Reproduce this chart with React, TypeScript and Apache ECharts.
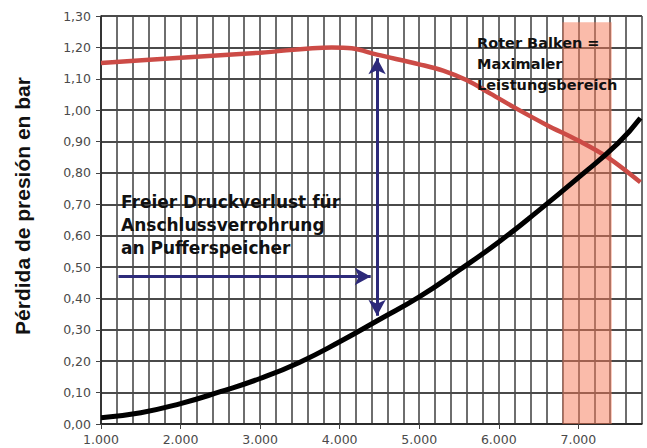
import React, { useEffect, useRef } from "react";
import * as echarts from "echarts";

const xTicks = [1000, 2000, 3000, 4000, 5000, 6000, 7000];
const yTicks = [0, 0.1, 0.2, 0.3, 0.4, 0.5, 0.6, 0.7, 0.8, 0.9, 1.0, 1.1, 1.2, 1.3];

// Red curve: available (free) pressure
const redX = [1000, 2000, 3000, 3900, 4150, 4470, 5000, 5300, 5600, 5900, 6200, 6600, 7000, 7360, 7780];
const redY = [1.15, 1.167, 1.183, 1.2, 1.197, 1.177, 1.146, 1.126, 1.095, 1.052, 1.008, 0.953, 0.903, 0.851, 0.77];

// Black curve: pressure loss
const blackX = [1000, 1500, 2000, 2500, 3000, 3500, 4000, 4500, 5000, 5500, 6000, 6500, 7000, 7500, 7780];
const blackY = [0.02, 0.036, 0.065, 0.103, 0.145, 0.197, 0.262, 0.333, 0.405, 0.49, 0.58, 0.68, 0.785, 0.895, 0.975];

// Red bar (max. performance range)
const barRange = [6800, 7420];
const barTop = 1.28;

// Arrows
const hArrow = { x0: 1220, x1: 4390, y: 0.47 };
const vArrow = { x: 4470, y0: 1.165, y1: 0.345 };

const yTitle = "Pérdida de presión en bar";
const note1 = "Freier Druckverlust für\nAnschlussverrohrung\nan Pufferspeicher";
const note2 = "Roter Balken =\nMaximaler\nLeistungsbereich";

const FONT = '"Liberation Sans", Arial, sans-serif';
const WIDE = '"DejaVu Sans", sans-serif';

export default function App() {
  const ref = useRef<HTMLDivElement>(null);
  useEffect(() => {
    document.body.style.margin = "0";
    const chart = echarts.init(ref.current!, null, { renderer: "svg" });
    const gridColor = "#4a4a4a";
    chart.setOption({
      animation: false,
      backgroundColor: "#ffffff",
      grid: { left: 101, right: 5, top: 16, bottom: 24 },
      xAxis: [
        {
          type: "value",
          min: 1000,
          max: 7800,
          interval: 1000,
          axisLine: { show: true, lineStyle: { color: "#222", width: 1.5 } },
          axisTick: { show: true, length: 5, lineStyle: { color: "#444" } },
          axisLabel: {
            margin: 9,
            color: "#4a4a4a",
            fontSize: 12.5,
            fontFamily: WIDE,
            showMaxLabel: false,
            formatter: (v: number) =>
              xTicks.includes(v) ? (v / 1000).toFixed(3) : "",
          },
          splitLine: { show: false },
        },
        {
          type: "value",
          min: 1000,
          max: 7800,
          interval: 200,
          position: "bottom",
          axisLine: { show: false },
          axisTick: { show: false },
          axisLabel: { show: false },
          splitLine: { show: true, lineStyle: { color: gridColor, width: 1.6 } },
        },
      ],
      yAxis: {
        type: "value",
        min: 0,
        max: 1.3,
        interval: 0.1,
        axisLine: { show: true, lineStyle: { color: "#222", width: 1.5 } },
        axisTick: { show: true, length: 5, lineStyle: { color: "#444" } },
        axisLabel: {
          margin: 10,
          color: "#4a4a4a",
          fontSize: 12.5,
          fontFamily: WIDE,
          formatter: (v: number) => {
            const t = yTicks.find((k) => Math.abs(k - v) < 1e-6);
            return t === undefined ? "" : t.toFixed(2).replace(".", ",");
          },
        },
        splitLine: { show: true, lineStyle: { color: gridColor, width: 1.8 } },
      },
      graphic: [
        {
          type: "text",
          x: 22,
          y: 206,
          rotation: Math.PI / 2,
          z: 100,
          style: {
            text: yTitle,
            font: `bold 21px ${FONT}`,
            fill: "#111",
            align: "center",
            verticalAlign: "middle",
          },
        },
        {
          type: "text",
          left: 121,
          top: 190,
          z: 100,
          style: { text: note1, font: `bold 17px ${WIDE}`, lineHeight: 23.3, fill: "#111" },
        },
        {
          type: "text",
          left: 477,
          top: 32,
          z: 100,
          style: { text: note2, font: `bold 14.5px ${WIDE}`, lineHeight: 21.3, fill: "#111" },
        },
      ],
      series: [
        {
          type: "line",
          xAxisIndex: 0,
          data: redX.map((x, i) => [x, redY[i]]),
          smooth: 0.35,
          showSymbol: false,
          lineStyle: { color: "#cc4b46", width: 4.5 },
          z: 3,
          markArea: {
            silent: true,
            itemStyle: { color: "rgba(245,120,85,0.5)" },
            data: [[{ xAxis: barRange[0], yAxis: 0 }, { xAxis: barRange[1], yAxis: barTop }]],
          },
        },
        {
          type: "line",
          xAxisIndex: 0,
          data: blackX.map((x, i) => [x, blackY[i]]),
          smooth: 0.5,
          showSymbol: false,
          lineStyle: { color: "#000", width: 5 },
          z: 4,
          markLine: {
            silent: true,
            label: { show: false },
            lineStyle: { color: "#2d2a7a", width: 3, type: "solid" },
            symbolSize: [13, 16],
            data: [
              [
                { coord: [hArrow.x0, hArrow.y], symbol: "none" },
                { coord: [hArrow.x1, hArrow.y], symbol: "arrow" },
              ],
              [
                { coord: [vArrow.x, vArrow.y0], symbol: "arrow" },
                { coord: [vArrow.x, vArrow.y1], symbol: "arrow" },
              ],
            ],
          },
        },
      ],
    });
    return () => chart.dispose();
  }, []);
  return <div ref={ref} style={{ width: 647, height: 448 }} />;
}
